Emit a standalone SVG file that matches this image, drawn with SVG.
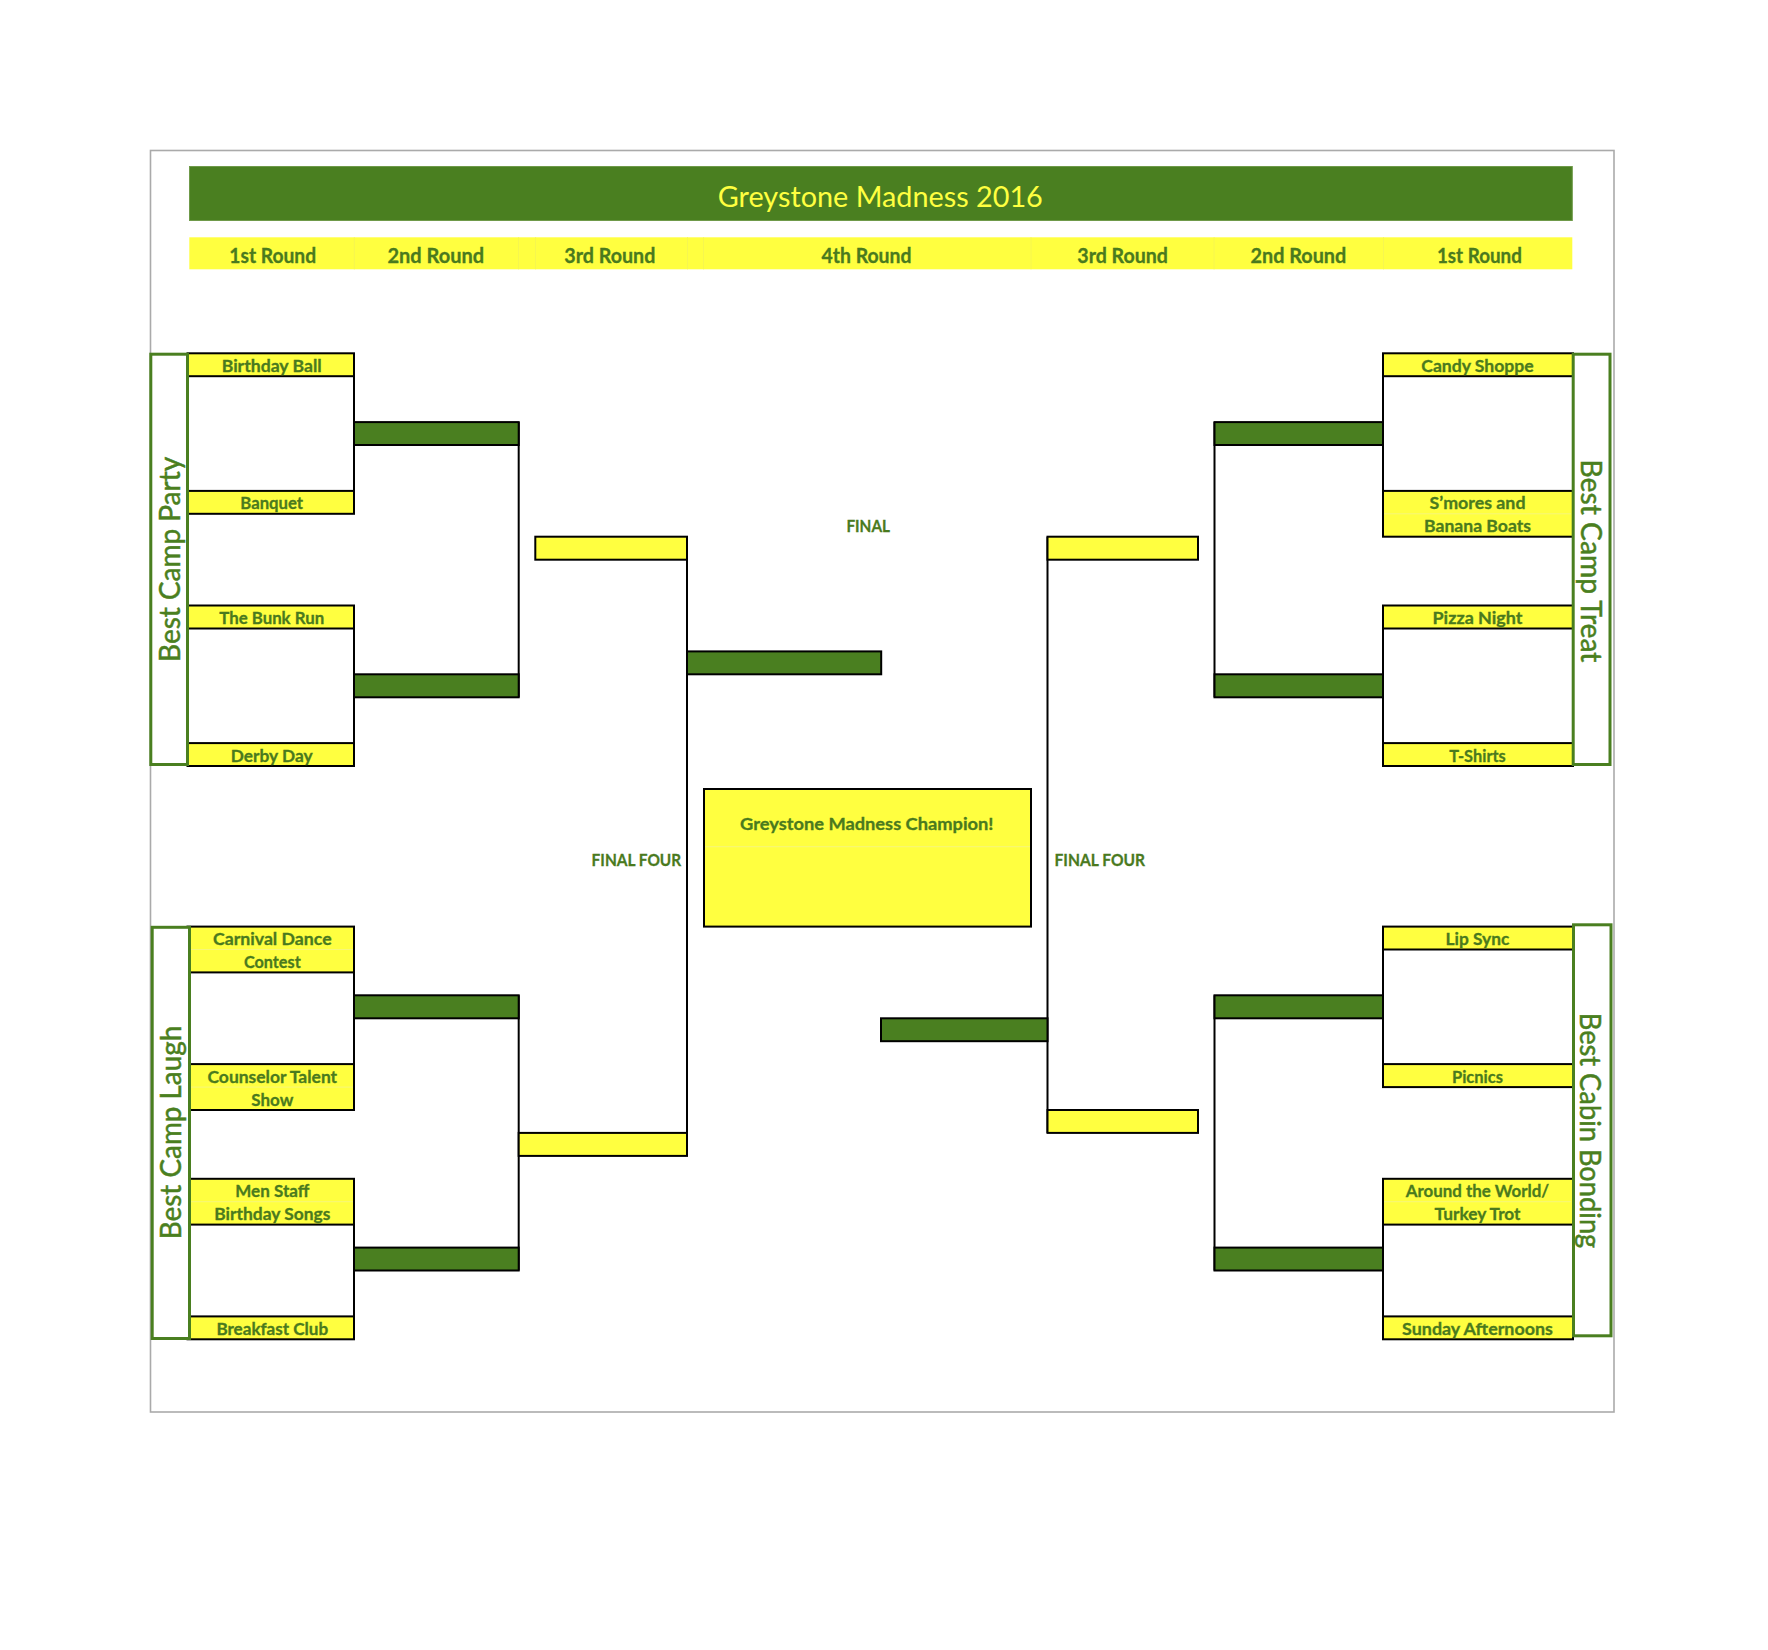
<svg xmlns="http://www.w3.org/2000/svg" width="1768" height="1650" viewBox="0 0 1768 1650">
<style>
.bg{fill:#ffffff}
.frame{fill:none;stroke:#aaaaaa;stroke-width:1.6}
.title{fill:#4a7f20;stroke:#6f9a4a;stroke-width:1}
.rbar{fill:#ffff40}
.sep{stroke:#f6f650;stroke-width:1}
.cell{fill:#ffff40;stroke:#000000;stroke-width:2}
.slotg{fill:#4a7f20;stroke:#000000;stroke-width:2}
.sloty{fill:#ffff40;stroke:#000000;stroke-width:2}
.side{fill:#ffffff;stroke:#4a7f20;stroke-width:3}
.mid{stroke:#f7f77a;stroke-width:1}
.ln{stroke:#000000;stroke-width:2;fill:none}
.t{font-family:Lato,"Open Sans","Liberation Sans",sans-serif;font-weight:700;fill:#4a7a1e;stroke:#4a7a1e;stroke-width:0.3;text-anchor:middle}
.lab{font-size:17.5px}
.rnd{font-size:20px}
.hd{font-family:Lato,"Open Sans","Liberation Sans",sans-serif;font-weight:400;font-size:28px;fill:#ffff40;text-anchor:middle}
.sd{font-family:Lato,"Open Sans","Liberation Sans",sans-serif;font-weight:400;font-size:29px;fill:#4a7f20;stroke:#4a7f20;stroke-width:0.5;text-anchor:middle}
</style>
<rect class="bg" x="0" y="0" width="1768" height="1650"/>
<rect class="frame" x="150.5" y="150.5" width="1463.5" height="1261.5"/>

<g id="header">
<rect class="title" x="189.5" y="166.5" width="1382.8" height="54"/>
<text class="hd" x="880.3" y="207.3" textLength="325" lengthAdjust="spacingAndGlyphs">Greystone Madness 2016</text>
</g>

<g id="rounds">
<rect class="rbar" x="189.3" y="237.3" width="1383" height="32"/>
<line class="sep" x1="354.3" y1="237.3" x2="354.3" y2="269.3"/>
<line class="sep" x1="518.6" y1="237.3" x2="518.6" y2="269.3"/>
<line class="sep" x1="535.6" y1="237.3" x2="535.6" y2="269.3"/>
<line class="sep" x1="687.5" y1="237.3" x2="687.5" y2="269.3"/>
<line class="sep" x1="703.6" y1="237.3" x2="703.6" y2="269.3"/>
<line class="sep" x1="1031" y1="237.3" x2="1031" y2="269.3"/>
<line class="sep" x1="1214.1" y1="237.3" x2="1214.1" y2="269.3"/>
<line class="sep" x1="1383.5" y1="237.3" x2="1383.5" y2="269.3"/>
<text class="t rnd" x="272.7" y="262.7" textLength="86.8" lengthAdjust="spacingAndGlyphs">1st Round</text>
<text class="t rnd" x="435.8" y="262.7" textLength="96.7" lengthAdjust="spacingAndGlyphs">2nd Round</text>
<text class="t rnd" x="609.8" y="262.7" textLength="91.1" lengthAdjust="spacingAndGlyphs">3rd Round</text>
<text class="t rnd" x="866.5" y="262.7" textLength="90" lengthAdjust="spacingAndGlyphs">4th Round</text>
<text class="t rnd" x="1122.6" y="262.7" textLength="90.6" lengthAdjust="spacingAndGlyphs">3rd Round</text>
<text class="t rnd" x="1298.4" y="262.7" textLength="95.8" lengthAdjust="spacingAndGlyphs">2nd Round</text>
<text class="t rnd" x="1479.4" y="262.7" textLength="84.9" lengthAdjust="spacingAndGlyphs">1st Round</text>
</g>

<g id="connectors">
<line class="ln" x1="354" y1="353.3" x2="354" y2="513.8"/>
<line class="ln" x1="354" y1="605.5" x2="354" y2="766"/>
<line class="ln" x1="354" y1="926.6" x2="354" y2="1110"/>
<line class="ln" x1="354" y1="1178.8" x2="354" y2="1339.3"/>
<line class="ln" x1="518.7" y1="422.1" x2="518.7" y2="697.3"/>
<line class="ln" x1="518.7" y1="995.3" x2="518.7" y2="1270.5"/>
<line class="ln" x1="687" y1="536.7" x2="687" y2="1155.9"/>
<line class="ln" x1="1047.5" y1="536.7" x2="1047.5" y2="1132.9"/>
<line class="ln" x1="1214.5" y1="422.1" x2="1214.5" y2="697.3"/>
<line class="ln" x1="1214.5" y1="995.3" x2="1214.5" y2="1270.5"/>
<line class="ln" x1="1383" y1="353.3" x2="1383" y2="536.7"/>
<line class="ln" x1="1383" y1="605.5" x2="1383" y2="766"/>
<line class="ln" x1="1383" y1="926.6" x2="1383" y2="1087.1"/>
<line class="ln" x1="1383" y1="1178.8" x2="1383" y2="1339.3"/>
</g>

<g id="r1-left-top">
<g id="birthday-ball"><rect class="cell" x="187.5" y="353.3" width="166.5" height="22.9"/><text class="t lab" x="271.7" y="371.7" textLength="100" lengthAdjust="spacingAndGlyphs">Birthday Ball</text></g>
<g id="banquet"><rect class="cell" x="187.5" y="490.9" width="166.5" height="22.9"/><text class="t lab" x="271.7" y="509.3" textLength="62.7" lengthAdjust="spacingAndGlyphs">Banquet</text></g>
<g id="bunk-run"><rect class="cell" x="187.5" y="605.5" width="166.5" height="23"/><text class="t lab" x="271.7" y="623.9" textLength="105" lengthAdjust="spacingAndGlyphs">The Bunk Run</text></g>
<g id="derby-day"><rect class="cell" x="187.5" y="743.1" width="166.5" height="22.9"/><text class="t lab" x="271.7" y="761.5" textLength="81.7" lengthAdjust="spacingAndGlyphs">Derby Day</text></g>
</g>

<g id="r1-left-bottom">
<g id="carnival"><rect class="cell" x="187.5" y="926.6" width="166.5" height="45.8"/><line class="mid" x1="190" y1="949.5" x2="353" y2="949.5"/><text class="t lab" x="272.3" y="945" textLength="118.6" lengthAdjust="spacingAndGlyphs">Carnival Dance</text><text class="t lab" x="272.3" y="967.9" textLength="56.8" lengthAdjust="spacingAndGlyphs">Contest</text></g>
<g id="counselor"><rect class="cell" x="187.5" y="1064.1" width="166.5" height="45.9"/><line class="mid" x1="190" y1="1087.1" x2="353" y2="1087.1"/><text class="t lab" x="272.3" y="1082.5" textLength="129.6" lengthAdjust="spacingAndGlyphs">Counselor Talent</text><text class="t lab" x="272.3" y="1105.5" textLength="42" lengthAdjust="spacingAndGlyphs">Show</text></g>
<g id="men-staff"><rect class="cell" x="187.5" y="1178.8" width="166.5" height="45.8"/><line class="mid" x1="190" y1="1201.7" x2="353" y2="1201.7"/><text class="t lab" x="272.3" y="1197.2" textLength="74" lengthAdjust="spacingAndGlyphs">Men Staff</text><text class="t lab" x="272.3" y="1220.1" textLength="116" lengthAdjust="spacingAndGlyphs">Birthday Songs</text></g>
<g id="breakfast-club"><rect class="cell" x="187.5" y="1316.4" width="166.5" height="22.9"/><text class="t lab" x="272.3" y="1334.8" textLength="111.8" lengthAdjust="spacingAndGlyphs">Breakfast Club</text></g>
</g>

<g id="r1-right-top">
<g id="candy-shoppe"><rect class="cell" x="1383" y="353.3" width="190" height="22.9"/><text class="t lab" x="1477.5" y="371.7" textLength="112.5" lengthAdjust="spacingAndGlyphs">Candy Shoppe</text></g>
<g id="smores"><rect class="cell" x="1383" y="490.9" width="190" height="45.8"/><line class="mid" x1="1384" y1="513.8" x2="1571" y2="513.8"/><text class="t lab" x="1477.5" y="509.3" textLength="96" lengthAdjust="spacingAndGlyphs">S’mores and</text><text class="t lab" x="1477.5" y="532.2" textLength="106.9" lengthAdjust="spacingAndGlyphs">Banana Boats</text></g>
<g id="pizza-night"><rect class="cell" x="1383" y="605.5" width="190" height="23"/><text class="t lab" x="1477.5" y="623.9" textLength="90" lengthAdjust="spacingAndGlyphs">Pizza Night</text></g>
<g id="t-shirts"><rect class="cell" x="1383" y="743.1" width="190" height="22.9"/><text class="t lab" x="1477.5" y="761.5" textLength="56.6" lengthAdjust="spacingAndGlyphs">T-Shirts</text></g>
</g>

<g id="r1-right-bottom">
<g id="lip-sync"><rect class="cell" x="1383" y="926.6" width="190" height="22.9"/><text class="t lab" x="1477.5" y="945" textLength="63.8" lengthAdjust="spacingAndGlyphs">Lip Sync</text></g>
<g id="picnics"><rect class="cell" x="1383" y="1064.1" width="190" height="23"/><text class="t lab" x="1477.5" y="1082.5" textLength="51" lengthAdjust="spacingAndGlyphs">Picnics</text></g>
<g id="around-world"><rect class="cell" x="1383" y="1178.8" width="190" height="45.8"/><line class="mid" x1="1384" y1="1201.7" x2="1571" y2="1201.7"/><text class="t lab" x="1477.5" y="1197.2" textLength="143.4" lengthAdjust="spacingAndGlyphs">Around the World/</text><text class="t lab" x="1477.5" y="1220.1" textLength="86" lengthAdjust="spacingAndGlyphs">Turkey Trot</text></g>
<g id="sunday"><rect class="cell" x="1383" y="1316.4" width="190" height="22.9"/><text class="t lab" x="1477.5" y="1334.8" textLength="150.8" lengthAdjust="spacingAndGlyphs">Sunday Afternoons</text></g>
</g>

<g id="r2-slots">
<rect id="r2-l1" class="slotg" x="354" y="422.1" width="164.7" height="22.9"/>
<rect id="r2-l2" class="slotg" x="354" y="674.3" width="164.7" height="23"/>
<rect id="r2-l3" class="slotg" x="354" y="995.3" width="164.7" height="23"/>
<rect id="r2-l4" class="slotg" x="354" y="1247.6" width="164.7" height="22.9"/>
<rect id="r2-r1" class="slotg" x="1214.5" y="422.1" width="168.5" height="22.9"/>
<rect id="r2-r2" class="slotg" x="1214.5" y="674.3" width="168.5" height="23"/>
<rect id="r2-r3" class="slotg" x="1214.5" y="995.3" width="168.5" height="23"/>
<rect id="r2-r4" class="slotg" x="1214.5" y="1247.6" width="168.5" height="22.9"/>
</g>

<g id="r3-slots">
<rect id="r3-l1" class="sloty" x="535.3" y="536.7" width="151.7" height="23"/>
<rect id="r3-l2" class="sloty" x="518.7" y="1132.9" width="168.3" height="23"/>
<rect id="r3-r1" class="sloty" x="1047.5" y="536.7" width="150.5" height="23"/>
<rect id="r3-r2" class="sloty" x="1047.5" y="1110" width="150.5" height="22.9"/>
</g>

<g id="final-slots">
<rect id="final-l" class="slotg" x="687" y="651.4" width="194.2" height="22.9"/>
<rect id="final-r" class="slotg" x="881" y="1018.3" width="166.5" height="22.9"/>
</g>

<g id="champion">
<rect class="sloty" x="704" y="789" width="327" height="137.6"/>
<line class="mid" x1="705" y1="846.7" x2="1030" y2="846.7"/>
<text class="t" style="font-size:17.5px" x="866.8" y="830" textLength="253.4" lengthAdjust="spacingAndGlyphs">Greystone Madness Champion!</text>
</g>

<g id="labels">
<text class="t" style="font-size:17.5px" x="868.2" y="532" textLength="43.6" lengthAdjust="spacingAndGlyphs">FINAL</text>
<text class="t" style="font-size:17.5px" x="636.4" y="865.7" textLength="89.6" lengthAdjust="spacingAndGlyphs">FINAL FOUR</text>
<text class="t" style="font-size:17.5px" x="1099.8" y="865.7" textLength="90.5" lengthAdjust="spacingAndGlyphs">FINAL FOUR</text>
</g>

<g id="side-party">
<rect class="side" x="150.8" y="354.2" width="36.7" height="410.3"/>
<text class="sd" transform="translate(180,559.4) rotate(-90)" x="0" y="0" textLength="205" lengthAdjust="spacingAndGlyphs">Best Camp Party</text>
</g>
<g id="side-laugh">
<rect class="side" x="152.2" y="927.3" width="37.3" height="411.2"/>
<text class="sd" transform="translate(181,1132.5) rotate(-90)" x="0" y="0" textLength="213.5" lengthAdjust="spacingAndGlyphs">Best Camp Laugh</text>
</g>
<g id="side-treat">
<rect class="side" x="1573.2" y="354.2" width="36.8" height="410.3"/>
<text class="sd" transform="translate(1580.6,561) rotate(90)" x="0" y="0" textLength="203" lengthAdjust="spacingAndGlyphs">Best Camp Treat</text>
</g>
<g id="side-bonding">
<rect class="side" x="1573.5" y="924.8" width="37.5" height="411"/>
<text class="sd" transform="translate(1579.6,1130.5) rotate(90)" x="0" y="0" textLength="235.6" lengthAdjust="spacingAndGlyphs">Best Cabin Bonding</text>
</g>
</svg>
